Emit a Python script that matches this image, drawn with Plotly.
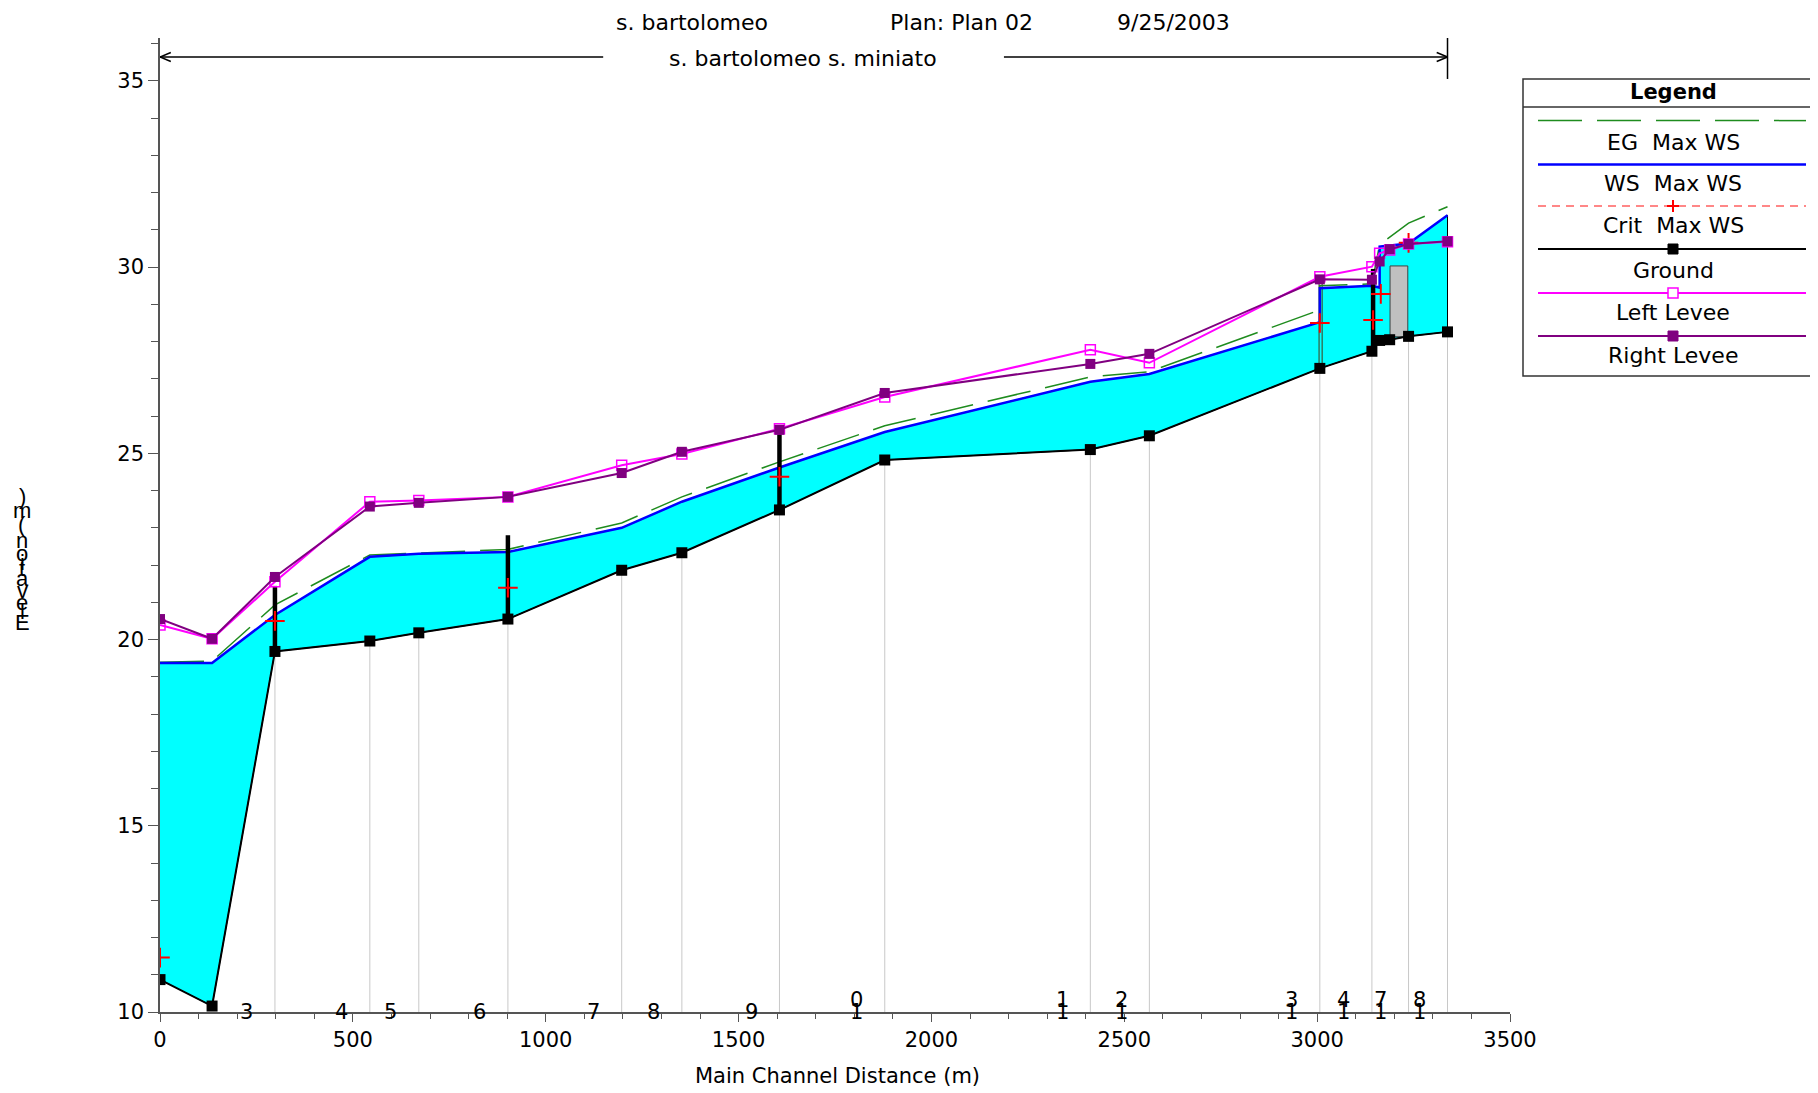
import plotly.graph_objects as go

# ---------------- data ----------------
station_labels = ["1", "2", "3", "4", "5", "6", "7", "8", "9", "10", "11", "12",
                  "13", "14", "15", "16", "17", "18"]
distance = [0, 135, 298, 544, 671, 902, 1197, 1353, 1606, 1879, 2412, 2565,
            3007, 3142, 3162, 3188, 3237, 3338]
ground = [10.87, 10.16, 19.68, 19.96, 20.18, 20.55, 21.86, 22.33, 23.48, 24.82, 25.10, 25.47,
          27.28, 27.74, 28.03, 28.05, 28.14, 28.26]
left_levee = [20.39, 20.02, 21.55, 23.70, 23.73, 23.83, 24.68, 24.98, 25.66, 26.51, 27.78, 27.43,
              29.74, 30.01, 30.37, 30.46, 30.62, 30.68]
right_levee = [20.55, 20.02, 21.68, 23.57, 23.67, 23.83, 24.47, 25.04, 25.63, 26.62, 27.40, 27.67,
               29.67, 29.66, 30.15, 30.48, 30.62, 30.69]
labelled_stations = [2, 3, 4, 5, 6, 7, 8, 9, 10, 11, 12, 13, 16, 17]

ws_distance = [0, 135, 298, 544, 671, 902, 1197, 1353, 1606, 1879, 2412, 2565,
               3007, 3007, 3142, 3162, 3162, 3188, 3237, 3338]
ws_max = [19.37, 19.37, 20.66, 22.22, 22.30, 22.35, 23.00, 23.70, 24.62, 25.57, 26.92, 27.13,
          28.52, 29.43, 29.50, 29.45, 30.55, 30.58, 30.63, 31.39]

eg_distance = [0, 135, 298, 544, 671, 902, 1197, 1353, 1606, 1879, 2412, 2565,
               3007, 3007, 3142, 3162, 3237, 3338]
eg_max = [19.39, 19.42, 20.93, 22.27, 22.32, 22.42, 23.13, 23.83, 24.77, 25.74, 27.05, 27.19,
          28.85, 29.50, 29.55, 30.60, 31.18, 31.62]

crit_distance = [0, 298, 902, 1606, 3007, 3145, 3165, 3237]
crit_max = [11.46, 20.50, 21.39, 24.37, 28.50, 28.58, 29.28, 30.65]

bar_distance = [298, 902, 1606, 3145]
bar_bottom = [19.68, 20.55, 23.48, 27.74]
bar_top = [21.44, 22.80, 25.63, 29.95]

bridge_line_distance = [3005, 3013]
bridge_line_bottom = [27.28, 27.30]
bridge_line_top = [29.55, 29.55]

deck_x = [3189, 3235]
deck_y = [28.13, 30.03]

reach_start, reach_end = 0, 3338
reach_gap = [1149, 2188]

title_parts = ["s. bartolomeo", "Plan: Plan 02", "9/25/2003"]
reach_name = "s. bartolomeo s. miniato"
legend_names = ["EG\u00a0 Max WS", "WS\u00a0 Max WS", "Crit\u00a0 Max WS", "Ground", "Left Levee", "Right Levee"]

# ---------------- layout helpers ----------------
# page coordinates (body margin of 8 px is taken into account)
OFF = 8
W, H = 1818 - OFF, 1093 - OFF
L, R, T, B = 160, 1510, 38, 1012      # plot area in page pixels
YMIN, YMAX = 10, 36.15


def fx(px):
    return (px - L) / (R - L)


def fy(py):
    return (B - py) / (B - T)


FONT = "DejaVu Sans"
fig = go.Figure()

# water fill
fig.add_trace(go.Scatter(x=ws_distance + distance[::-1], y=ws_max + ground[::-1],
                         fill="toself", fillcolor="#00FFFF", mode="lines",
                         line=dict(color="#000000", width=1), hoverinfo="skip"))
# bridge deck
fig.add_trace(go.Scatter(x=[deck_x[0], deck_x[1], deck_x[1], deck_x[0], deck_x[0]],
                         y=[deck_y[0], deck_y[0], deck_y[1], deck_y[1], deck_y[0]],
                         fill="toself", fillcolor="#C0C0C0", mode="lines",
                         line=dict(color="#404040", width=1)))
# drop lines
dx, dy = [], []
for i in labelled_stations:
    dx += [distance[i], distance[i], None]
    dy += [ground[i], YMIN, None]
fig.add_trace(go.Scatter(x=dx, y=dy, mode="lines", line=dict(color="#C8C8C8", width=1)))
# bridge opening lines
bx, by = [], []
for xv, b0, b1 in zip(bridge_line_distance, bridge_line_bottom, bridge_line_top):
    bx += [xv, xv, None]
    by += [b0, b1, None]
fig.add_trace(go.Scatter(x=bx, y=by, mode="lines", line=dict(color="#3A5A3A", width=1.2)))
# EG
fig.add_trace(go.Scatter(x=eg_distance, y=eg_max, mode="lines",
                         line=dict(color="#1E8C1E", width=1.5, dash="44px,15px")))
# WS
fig.add_trace(go.Scatter(x=ws_distance, y=ws_max, mode="lines",
                         line=dict(color="#0000FF", width=2.5)))
# Ground
fig.add_trace(go.Scatter(x=distance, y=ground, mode="lines+markers",
                         line=dict(color="#000000", width=2),
                         marker=dict(symbol="square", size=11, color="#000000")))
# thick bars
kx, ky = [], []
for xv, b0, b1 in zip(bar_distance, bar_bottom, bar_top):
    kx += [xv, xv, None]
    ky += [b0, b1, None]
fig.add_trace(go.Scatter(x=kx, y=ky, mode="lines", line=dict(color="#000000", width=4.5)))
# Crit
fig.add_trace(go.Scatter(x=crit_distance, y=crit_max, mode="markers",
                         marker=dict(symbol="cross-thin", size=14, line=dict(color="#FF0000", width=2))))
# Levees
fig.add_trace(go.Scatter(x=distance, y=left_levee, mode="lines+markers",
                         line=dict(color="#FF00FF", width=2),
                         marker=dict(symbol="square-open", size=10, color="#FF00FF", line=dict(width=1.5))))
fig.add_trace(go.Scatter(x=distance, y=right_levee, mode="lines+markers",
                         line=dict(color="#800080", width=2),
                         marker=dict(symbol="square", size=10, color="#800080")))

shapes = []
ann = []

# reach arrow
ya = 35.64
shapes += [
    dict(type="line", xref="x", yref="y", x0=reach_start, x1=reach_gap[0], y0=ya, y1=ya, line=dict(color="black", width=1.5)),
    dict(type="line", xref="x", yref="y", x0=reach_gap[1], x1=reach_end, y0=ya, y1=ya, line=dict(color="black", width=1.5)),
    dict(type="line", xref="x", yref="y", x0=reach_start, x1=reach_start + 28, y0=ya, y1=ya + 0.12, line=dict(color="black", width=1.5)),
    dict(type="line", xref="x", yref="y", x0=reach_start, x1=reach_start + 28, y0=ya, y1=ya - 0.12, line=dict(color="black", width=1.5)),
    dict(type="line", xref="x", yref="y", x0=reach_end, x1=reach_end - 28, y0=ya, y1=ya + 0.12, line=dict(color="black", width=1.5)),
    dict(type="line", xref="x", yref="y", x0=reach_end, x1=reach_end - 28, y0=ya, y1=ya - 0.12, line=dict(color="black", width=1.5)),
    dict(type="line", xref="x", yref="y", x0=reach_end, x1=reach_end, y0=35.05, y1=YMAX, line=dict(color="black", width=1.5)),
]
ann.append(dict(text=reach_name, x=fx(803), y=fy(59), xref="paper", yref="paper", showarrow=False,
                font=dict(family=FONT, size=22, color="black"), xanchor="center", yanchor="middle"))

# title
for t, px in zip(title_parts, [692, 961, 1173]):
    ann.append(dict(text=t, x=fx(px), y=fy(8.5), xref="paper", yref="paper", showarrow=False,
                    font=dict(family=FONT, size=22, color="black"), xanchor="center", yanchor="top"))

# station labels
for i in labelled_stations:
    lab = station_labels[i]
    for k, ch in enumerate(lab):
        ann.append(dict(text=ch, x=distance[i], y=YMIN, xref="x", yref="y", showarrow=False,
                        xshift=-28, yshift=12 * k, xanchor="center", yanchor="middle",
                        font=dict(family=FONT, size=21, color="black")))

# y title: upright glyphs stacked bottom-to-top
ytitle = "Elevation (m)"
adv = {"E": 667, "l": 222, "e": 556, "v": 500, "a": 556, "t": 278, "i": 222, "o": 556,
       "n": 556, " ": 278, "(": 333, "m": 833, ")": 333}
cum = 0
for ch in ytitle:
    c = cum + adv[ch] / 2
    cum += adv[ch]
    if ch == " ":
        continue
    py = 622 - (c - 333.5) * 0.0232
    ann.append(dict(text=ch, x=fx(22), y=fy(py), xref="paper", yref="paper", showarrow=False,
                    xanchor="center", yanchor="middle", font=dict(family="Liberation Sans", size=22, color="black")))

# legend box
lx0, lx1, ly0, ly1 = 1523, 1817, 79, 376
shapes.append(dict(type="rect", xref="paper", yref="paper", x0=fx(lx0), x1=fx(lx1), y0=fy(ly1), y1=fy(ly0),
                   line=dict(color="#333333", width=1.5), fillcolor="white", layer="above"))
shapes.append(dict(type="line", xref="paper", yref="paper", x0=fx(lx0), x1=fx(lx1), y0=fy(107), y1=fy(107),
                   line=dict(color="#333333", width=1.5)))
ann.append(dict(text="<b>Legend</b>", x=fx(1673), y=fy(92), xref="paper", yref="paper", showarrow=False,
                xanchor="center", yanchor="middle", font=dict(family=FONT, size=21, color="black")))
sample_y = [120.6, 164.6, 206, 249, 293, 336]
text_y = [142.6, 184, 226, 270, 312, 355]
sx0, sx1, mx = 1538, 1806, 1673
styles = [("#1E8C1E", 1.5, "dash"), ("#0000FF", 2.5, "solid"), ("#FF6060", 1.5, "dash"),
          ("#000000", 2, "solid"), ("#FF00FF", 2, "solid"), ("#800080", 2, "solid")]
for (col, wd, ds), sy, ty, name in zip(styles, sample_y, text_y, legend_names):
    dash = "solid"
    if ds == "dash":
        dash = "44px,15px" if col == "#1E8C1E" else "8px,6px"
    shapes.append(dict(type="line", xref="paper", yref="paper", x0=fx(sx0), x1=fx(sx1), y0=fy(sy), y1=fy(sy),
                       line=dict(color=col, width=wd, dash=dash), layer="above"))
    ann.append(dict(text=name, x=fx(mx), y=fy(ty), xref="paper", yref="paper", showarrow=False,
                    xanchor="center", yanchor="middle", font=dict(family=FONT, size=22, color="black")))
# legend markers
s = 5
shapes.append(dict(type="line", xref="paper", yref="paper", x0=fx(mx - 6), x1=fx(mx + 6), y0=fy(206), y1=fy(206),
                   line=dict(color="#FF0000", width=2), layer="above"))
shapes.append(dict(type="line", xref="paper", yref="paper", x0=fx(mx), x1=fx(mx), y0=fy(200), y1=fy(212),
                   line=dict(color="#FF0000", width=2), layer="above"))
shapes.append(dict(type="rect", xref="paper", yref="paper", x0=fx(mx - s), x1=fx(mx + s), y0=fy(249 + s), y1=fy(249 - s),
                   line=dict(color="#000000", width=1), fillcolor="#000000", layer="above"))
shapes.append(dict(type="rect", xref="paper", yref="paper", x0=fx(mx - s), x1=fx(mx + s), y0=fy(293 + s), y1=fy(293 - s),
                   line=dict(color="#FF00FF", width=1.5), fillcolor="white", layer="above"))
shapes.append(dict(type="rect", xref="paper", yref="paper", x0=fx(mx - s), x1=fx(mx + s), y0=fy(336 + s), y1=fy(336 - s),
                   line=dict(color="#800080", width=1), fillcolor="#800080", layer="above"))

# x-axis title
ann.append(dict(text="Main Channel Distance (m)", x=fx(837), y=fy(1076), xref="paper", yref="paper", showarrow=False,
                xanchor="center", yanchor="middle", font=dict(family=FONT, size=21, color="black")))

fig.update_layout(
    width=W, height=H,
    margin=dict(l=L - OFF, r=(W + OFF) - R, t=T - OFF, b=(H + OFF) - B, autoexpand=False),
    paper_bgcolor="white", plot_bgcolor="white",
    showlegend=False,
    shapes=shapes, annotations=ann,
    xaxis=dict(range=[0, 3500], showgrid=False, zeroline=False, showline=True, linecolor="#555555", linewidth=1.5,
               ticks="outside", ticklen=8, tickcolor="#555555", tick0=0, dtick=500,
               minor=dict(dtick=100, ticks="outside", ticklen=5, tickcolor="#555555"),
               tickfont=dict(family=FONT, size=21, color="black")),
    yaxis=dict(range=[YMIN, YMAX], showgrid=False, zeroline=False, showline=True, linecolor="#555555", linewidth=1.5,
               ticks="outside", ticklen=10, tickcolor="#555555", tick0=10, dtick=5,
               minor=dict(dtick=1, ticks="outside", ticklen=7, tickcolor="#555555"),
               tickfont=dict(family=FONT, size=21, color="black")),
)

fig.write_html("out.html")
